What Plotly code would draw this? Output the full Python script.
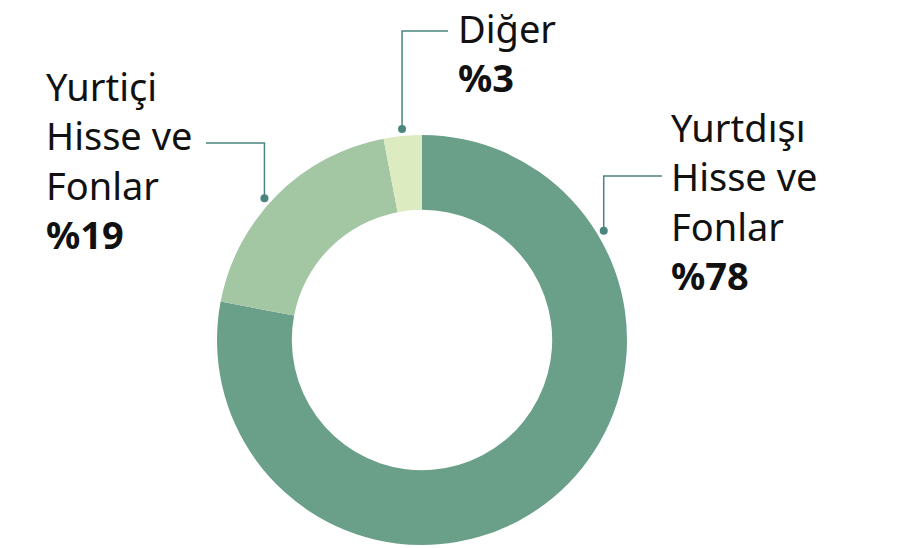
import math
import plotly.graph_objects as go

labels = ["Yurtdışı Hisse ve Fonlar", "Yurtiçi Hisse ve Fonlar", "Diğer"]
values = [78, 19, 3]
colors = ["#6aa08a", "#a3c6a3", "#dcecc0"]
label_lines = [["Yurtdışı", "Hisse ve", "Fonlar"], ["Yurtiçi", "Hisse ve", "Fonlar"], ["Diğer"]]

W, H = 907, 548
CX, CY, R = 422, 340, 205
HOLE = 0.635
LINE_COLOR = "#4a857f"
FONT = "Noto Sans"
FS = 38

fig = go.Figure()
fig.add_trace(go.Pie(
    labels=labels, values=values, sort=False, direction="clockwise", rotation=0,
    hole=HOLE, marker=dict(colors=colors, line=dict(width=0)),
    textinfo="none", hoverinfo="label+percent", showlegend=False,
    domain=dict(x=[(CX - R) / W, (CX + R) / W], y=[(H - CY - R) / H, (H - CY + R) / H]),
))

# slice mid-angles (degrees clockwise from top)
total = sum(values)
mids = []
acc = 0
for v in values:
    mids.append((acc + v / 2) / total * 360)
    acc += v
# leader anchor angles: Yurtdışı label is placed near upper right
anchor_angles = [59, mids[1] - 3, mids[2]]
elbow_y = [176, 143, 31]
elbow_x_end = [662, 206, 448]
text_x = [669, 44, 456]
text_top = [99, 58, 0]

RD = R + 7
for i in range(3):
    a = math.radians(anchor_angles[i])
    px = CX + RD * math.sin(a)
    py = CY - RD * math.cos(a)
    fig.add_trace(go.Scatter(
        x=[px, px, elbow_x_end[i]], y=[py, elbow_y[i], elbow_y[i]], mode="lines",
        line=dict(color=LINE_COLOR, width=1.5), hoverinfo="skip", showlegend=False,
        xaxis="x", yaxis="y"))
    fig.add_trace(go.Scatter(
        x=[px], y=[py], mode="markers", marker=dict(color=LINE_COLOR, size=8),
        hoverinfo="skip", showlegend=False))
    txt = "<br>".join(label_lines[i]) + "<br><b>%" + str(values[i]) + "</b>"
    fig.add_annotation(x=text_x[i], y=text_top[i], xref="x", yref="y", text=txt,
                       showarrow=False, xanchor="left", yanchor="top", align="left",
                       font=dict(family=FONT, size=FS, color="#111111"))

fig.update_layout(
    width=W, height=H, margin=dict(l=0, r=0, t=0, b=0),
    paper_bgcolor="white", plot_bgcolor="rgba(0,0,0,0)",
    xaxis=dict(range=[0, W], visible=False, fixedrange=True, domain=[0, 1]),
    yaxis=dict(range=[H, 0], visible=False, fixedrange=True, domain=[0, 1]),
)
fig.write_html("out.html")
